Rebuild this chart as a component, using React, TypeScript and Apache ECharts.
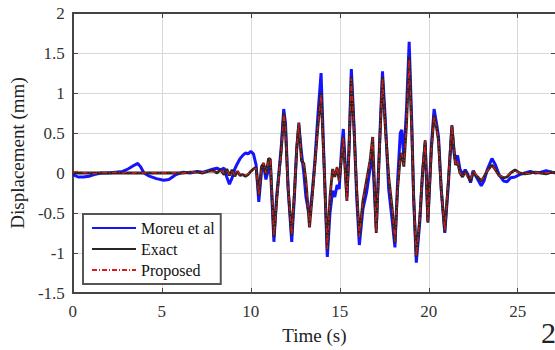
import React, { useEffect, useRef } from "react";
import * as echarts from "echarts";

const TIME = [
  0.0, 0.3, 0.6, 0.9, 1.2, 1.6, 2.0, 2.4, 2.8, 3.1, 3.4, 3.65, 3.8, 4.0, 4.3, 4.7, 5.1, 5.4, 5.8, 6.2,
  6.6, 7.0, 7.3, 7.6, 7.9, 8.1, 8.3, 8.5, 8.65, 8.8, 8.95, 9.1, 9.25, 9.4, 9.55, 9.7, 9.85, 10.0, 10.15, 10.3,
  10.45, 10.6, 10.72, 10.85, 11.0, 11.1, 11.3, 11.45, 11.6, 11.72, 11.85, 11.95, 12.1, 12.3, 12.45, 12.58, 12.7, 12.85, 12.98, 13.1,
  13.3, 13.45, 13.6, 13.78, 13.95, 14.1, 14.3, 14.45, 14.6, 14.72, 14.85, 14.97, 15.1, 15.2, 15.4, 15.52, 15.65, 15.8, 15.95, 16.1,
  16.3, 16.5, 16.7, 16.85, 17.05, 17.25, 17.4, 17.55, 17.75, 17.95, 18.1, 18.25, 18.4, 18.48, 18.6, 18.75, 18.9, 19.05, 19.15, 19.3,
  19.5, 19.65, 19.8, 19.95, 20.15, 20.3, 20.45, 20.55, 20.7, 20.9, 21.1, 21.3, 21.42, 21.5, 21.62, 21.75, 21.9, 22.05, 22.2, 22.35,
  22.5, 22.65, 22.8, 22.95, 23.1, 23.3, 23.55, 23.75, 23.95, 24.2, 24.4, 24.6, 24.85, 25.1, 25.4, 25.7, 26.0, 26.3, 26.6, 26.9,
  27.2,
];

const EXACT = [
  0.0, 0.0, 0.0, 0.0, 0.0, 0.0, 0.0, 0.0, 0.0, 0.0, 0.0, 0.0, 0.0, 0.0, 0.0, 0.0, 0.0, 0.0, 0.0, 0.0,
  0.01, 0.01, 0.0, 0.02, 0.03, 0.0, 0.04, -0.02, 0.05, -0.03, 0.04, -0.04, 0.02, -0.03, -0.02, -0.04, -0.02, 0.02, 0.05, 0.07,
  -0.28, 0.08, 0.12, -0.02, 0.18, 0.17, -0.8, -0.35, 0.02, 0.3, 0.75, 0.55, -0.2, -0.78, -0.25, 0.3, 0.63, 0.15, 0.12, -0.1,
  -0.68, -0.3, 0.1, 0.6, 1.0, 0.2, -0.96, -0.3, 0.05, -0.05, 0.07, -0.1, 0.2, 0.45, -0.35, 0.3, 1.2, 0.55, -0.2, -0.8,
  -0.35, -0.1, 0.15, 0.45, -0.75, 0.4, 1.2, 0.6, -0.05, -0.45, -0.87, -0.2, 0.2, 0.25, 0.08, 0.6, 1.45, 0.5, -0.3, -1.05,
  -0.55, 0.0, 0.41, -0.62, 0.3, 0.72, 0.55, 0.4, -0.2, -0.73, -0.1, 0.6, 0.3, 0.1, 0.14, 0.0, -0.05, 0.02, -0.04, -0.1,
  0.02, -0.03, -0.06, -0.1, -0.05, 0.03, 0.1, 0.04, -0.03, -0.06, -0.05, 0.0, 0.04, 0.0, -0.01, 0.0, 0.01, 0.0, -0.01, 0.01,
  0.0,
];

const PROPOSED = [
  0.01, 0.02, 0.0, 0.01, -0.01, 0.01, 0.0, 0.01, 0.0, 0.01, 0.0, 0.01, 0.0, 0.0, 0.01, 0.0, 0.0, 0.01, 0.0, 0.0,
  0.02, 0.0, 0.01, 0.03, 0.01, 0.02, 0.03, 0.0, 0.04, -0.02, 0.03, -0.03, 0.03, -0.02, -0.03, -0.03, -0.01, 0.03, 0.04, 0.06,
  -0.27, 0.06, 0.13, 0.0, 0.16, 0.18, -0.78, -0.36, 0.03, 0.28, 0.74, 0.56, -0.2, -0.77, -0.26, 0.3, 0.62, 0.16, 0.1, -0.08,
  -0.67, -0.3, 0.1, 0.6, 0.98, 0.2, -0.95, -0.3, 0.04, -0.04, 0.08, -0.1, 0.2, 0.44, -0.36, 0.3, 1.18, 0.55, -0.2, -0.8,
  -0.35, -0.1, 0.16, 0.44, -0.74, 0.4, 1.18, 0.6, -0.05, -0.45, -0.86, -0.2, 0.2, 0.24, 0.1, 0.58, 1.42, 0.5, -0.3, -1.04,
  -0.55, 0.0, 0.4, -0.6, 0.3, 0.7, 0.55, 0.4, -0.2, -0.72, -0.1, 0.6, 0.3, 0.1, 0.15, 0.0, -0.04, 0.0, -0.05, -0.08,
  0.03, -0.02, -0.05, -0.09, -0.05, 0.03, 0.09, 0.04, -0.03, -0.05, -0.04, 0.0, 0.03, 0.0, 0.0, -0.01, 0.01, 0.0, 0.0, 0.01,
  0.0,
];

const MOREU = [
  -0.02, -0.05, -0.05, -0.04, -0.02, 0.0, 0.0, 0.01, 0.02, 0.05, 0.09, 0.12, 0.08, 0.0, -0.04, -0.07, -0.09, -0.08, -0.02, 0.01,
  0.0, 0.02, 0.01, 0.03, 0.05, 0.06, 0.04, 0.06, -0.05, -0.14, -0.06, 0.05, 0.12, 0.18, 0.22, 0.25, 0.24, 0.27, 0.24, 0.1,
  -0.36, 0.02, 0.1, -0.08, 0.05, 0.1, -0.86, -0.3, 0.05, 0.35, 0.8, 0.62, -0.2, -0.86, -0.3, 0.3, 0.6, 0.25, 0.0, -0.3,
  -0.55, -0.25, 0.15, 0.75, 1.25, 0.25, -1.05, -0.5, -0.22, -0.3, -0.15, -0.2, 0.3, 0.55, -0.3, 0.3, 1.3, 0.6, -0.3, -0.9,
  -0.45, -0.25, 0.05, 0.2, -0.7, 0.45, 1.27, 0.7, -0.2, -0.6, -0.93, -0.1, 0.5, 0.54, 0.2, 0.8, 1.64, 0.6, -0.3, -1.12,
  -0.6, 0.0, 0.38, -0.6, 0.35, 0.8, 0.6, 0.45, -0.2, -0.75, -0.15, 0.58, 0.25, 0.15, 0.22, 0.05, -0.02, 0.04, -0.02, -0.12,
  0.03, -0.04, -0.1, -0.16, -0.1, 0.05, 0.18, 0.1, -0.02, -0.1, -0.11, -0.06, -0.05, -0.02, 0.0, 0.02, 0.0, 0.01, 0.03, 0.01,
  0.0,
];

const SERIES_NAMES = ["Moreu et al", "Exact", "Proposed"];
const X_LABEL = "Time (s)";
const Y_LABEL = "Displacement (mm)";

const FONT = "Liberation Serif";

export default function App() {
  const ref = useRef<HTMLDivElement>(null);

  useEffect(() => {
    if (!ref.current) return;
    const chart = echarts.init(ref.current, undefined, { renderer: "svg" });
    const pairs = (vals: number[]) => TIME.map((t, i) => [t, vals[i]]);
    const axisLine = { show: true, onZero: false, lineStyle: { color: "#444", width: 2 } };
    const axisTick = { show: true, inside: true, length: 5, lineStyle: { color: "#444", width: 1 } };
    chart.setOption({
      animation: false,
      backgroundColor: "#ffffff",
      textStyle: { fontFamily: FONT },
      grid: { left: 67, top: 13, width: 489, height: 280, show: false },
      legend: {
        orient: "vertical",
        left: 83,
        top: 214,
        data: SERIES_NAMES,
        itemWidth: 44,
        itemHeight: 14,
        itemGap: 5,
        padding: [6, 6, 6, 8],
        borderColor: "#555",
        borderWidth: 2,
        backgroundColor: "#fff",
        itemStyle: { opacity: 0 },
        textStyle: { fontFamily: FONT, fontSize: 16, color: "#111" },
      },
      xAxis: [
        {
          type: "value",
          min: 0,
          max: 27.15,
          interval: 5,
          position: "bottom",
          axisLine,
          axisTick,
          axisLabel: { fontFamily: FONT, fontSize: 17, color: "#333", margin: 10, showMaxLabel: false },
          splitLine: { show: true, lineStyle: { color: "#d9d9d9", width: 1 } },
          name: X_LABEL,
          nameLocation: "middle",
          nameGap: 33,
          nameTextStyle: { fontFamily: FONT, fontSize: 19, color: "#222" },
        },
        {
          type: "value",
          min: 0,
          max: 27.15,
          interval: 5,
          position: "top",
          axisLine,
          axisTick,
          axisLabel: { show: false },
          splitLine: { show: false },
        },
      ],
      yAxis: [
        {
          type: "value",
          min: -1.5,
          max: 2,
          interval: 0.5,
          position: "left",
          axisLine,
          axisTick,
          axisLabel: { fontFamily: FONT, fontSize: 17, color: "#333", margin: 8 },
          splitLine: { show: true, lineStyle: { color: "#d9d9d9", width: 1 } },
          name: Y_LABEL,
          nameLocation: "middle",
          nameGap: 40,
          nameTextStyle: { fontFamily: FONT, fontSize: 19, color: "#222" },
        },
        {
          type: "value",
          min: -1.5,
          max: 2,
          interval: 0.5,
          position: "right",
          axisLine,
          axisTick,
          axisLabel: { show: false },
          splitLine: { show: false },
        },
      ],
      series: [
        {
          name: SERIES_NAMES[0],
          type: "line",
          xAxisIndex: 0,
          yAxisIndex: 0,
          data: pairs(MOREU),
          symbol: "none",
          lineStyle: { color: "#1414ff", width: 3 },
          itemStyle: { color: "#1414ff" },
          z: 2,
        },
        {
          name: SERIES_NAMES[1],
          type: "line",
          xAxisIndex: 0,
          yAxisIndex: 0,
          data: pairs(EXACT),
          symbol: "none",
          lineStyle: { color: "#262626", width: 2.8 },
          itemStyle: { color: "#262626" },
          z: 3,
        },
        {
          name: SERIES_NAMES[2],
          type: "line",
          xAxisIndex: 0,
          yAxisIndex: 0,
          data: pairs(PROPOSED),
          symbol: "none",
          lineStyle: { color: "#e01818", width: 1.3, type: [5, 2, 1, 2] },
          itemStyle: { color: "#e01818" },
          z: 4,
        },
      ],
      graphic: [
        {
          type: "text",
          left: 541,
          top: 317,
          style: { text: "2", font: '30px "Liberation Serif"', fill: "#222" },
        },
      ],
    });
    return () => chart.dispose();
  }, []);

  return (
    <div style={{ position: "absolute", left: 0, top: 0, width: 555, height: 350, overflow: "hidden", background: "#fff" }}>
      <div ref={ref} style={{ width: 575, height: 350 }} />
    </div>
  );
}
